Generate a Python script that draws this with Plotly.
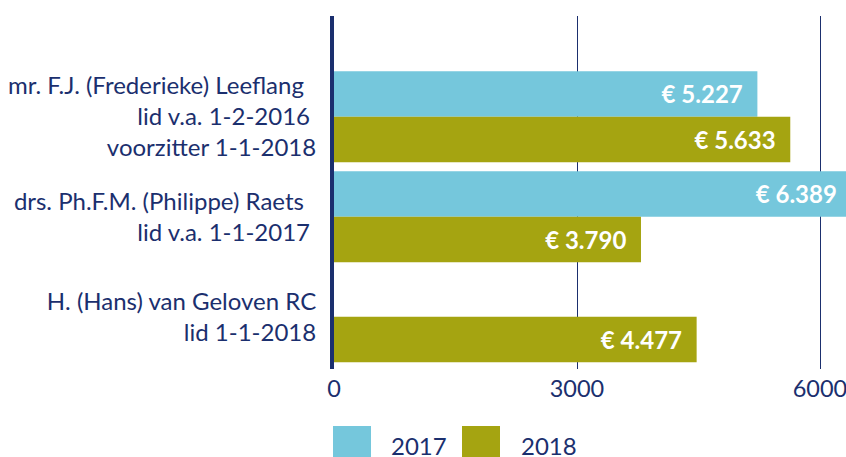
import plotly.graph_objects as go

categories = [
    "mr. F.J. (Frederieke) Leeflang\u00a0\u00a0<br>lid v.a. 1-2-2016\u00a0<br>voorzitter 1-1-2018",
    "drs. Ph.F.M. (Philippe) Raets\u00a0\u00a0<br>lid v.a. 1-1-2017\u00a0",
    "H. (Hans) van Geloven RC<br>lid 1-1-2018",
]
series_names = ["2017", "2018"]
values_2017 = [5227, 6389, None]
values_2018 = [5633, 3790, 4477]
x_tick_vals = [0, 3000, 6000]
x_tick_text = ["0", "3000", "6000"]

NAVY = "#1B2F6E"
BLUE = "#75C7DC"
OLIVE = "#A5A411"
FONT = "Lato"

W, H = 846, 457
ML, MT, MB = 334, 16, 88


def label(v):
    if v is None:
        return ""
    s = f"{v:,}".replace(",", ".")
    return "\u20ac\u00a0" + s + "\u00a0\u00a0"


fig = go.Figure()
for name, vals, col in [(series_names[0], values_2017, BLUE), (series_names[1], values_2018, OLIVE)]:
    fig.add_trace(go.Bar(
        name=name,
        y=categories,
        x=vals,
        orientation="h",
        marker=dict(color=col, line=dict(width=0)),
        text=[label(v) for v in vals],
        textposition="inside",
        insidetextanchor="end",
        textangle=0,
        constraintext="none",
        insidetextfont=dict(family=FONT, size=24, color="white", weight="bold"),
        hoverinfo="skip",
        showlegend=False,
    ))

fig.update_layout(
    width=W,
    height=H,
    margin=dict(l=ML, r=0, t=MT, b=MB, pad=0, autoexpand=False),
    paper_bgcolor="white",
    plot_bgcolor="white",
    barmode="group",
    bargap=0.09,
    bargroupgap=0,
    showlegend=False,
    font=dict(family=FONT, size=24, color=NAVY),
    xaxis=dict(
        range=[0, 6321],
        tickvals=x_tick_vals,
        ticktext=x_tick_text,
        showgrid=True,
        gridcolor=NAVY,
        gridwidth=1,
        zeroline=False,
        showline=False,
        ticks="",
        tickfont=dict(family=FONT, size=23.5, color=NAVY),
        ticklabelstandoff=3,
        ticklabeloverflow="allow",
        automargin=False,
        fixedrange=True,
    ),
    yaxis=dict(
        categoryorder="array",
        categoryarray=categories,
        range=[2.523, -1.007],
        showgrid=False,
        zeroline=False,
        showline=True,
        linecolor=NAVY,
        linewidth=4,
        ticks="",
        tickfont=dict(family=FONT, size=24, color=NAVY),
        ticklabelstandoff=9,
        automargin=False,
        fixedrange=True,
        layer="above traces",
    ),
)

# custom legend (large swatches), positions given in page pixels
plot_w = W - ML
plot_h = H - MB - MT
def px_x(p):
    return (p - ML) / plot_w
def px_y(p):
    return (H - MB - p) / plot_h

for name, col, sx, tx in [(series_names[0], BLUE, 333, 389), (series_names[1], OLIVE, 462, 519)]:
    fig.add_shape(type="rect", xref="paper", yref="paper",
                  x0=px_x(sx), x1=px_x(sx + 38), y0=px_y(426), y1=px_y(462),
                  fillcolor=col, line=dict(width=0), layer="above")
    fig.add_annotation(xref="paper", yref="paper", x=px_x(tx), y=px_y(445),
                       text=name, showarrow=False, xanchor="left", yanchor="middle",
                       font=dict(family=FONT, size=24, color=NAVY))

fig.write_html(
    "out.html",
    config={"displayModeBar": False},
    post_script="document.body.style.margin='0';document.body.style.overflow='hidden';",
)
